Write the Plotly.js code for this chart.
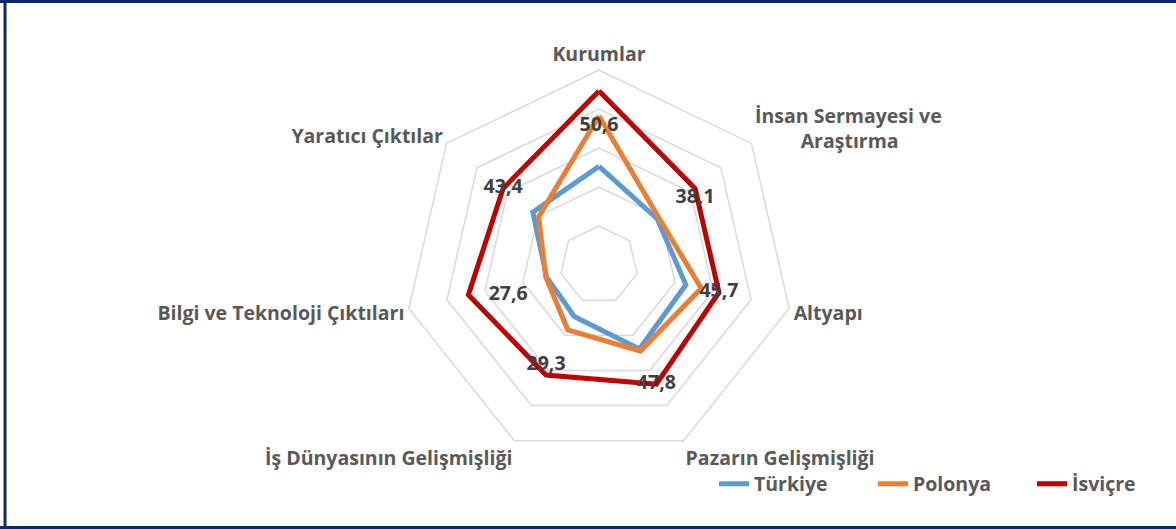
<!DOCTYPE html>
<html>
<head>
<meta charset="utf-8">
<script src="https://cdn.plot.ly/plotly-3.0.1.min.js"></script>
<style>
html,body{margin:0;padding:0;background:#fff;}
#chart{width:1176px;height:529px;}
</style>
</head>
<body>
<div id="chart"></div>
<script>
const categories = ["Kurumlar", "İnsan Sermayesi ve Araştırma", "Altyapı", "Pazarın Gelişmişliği", "İş Dünyasının Gelişmişliği", "Bilgi ve Teknoloji Çıktıları", "Yaratıcı Çıktılar"];
const tickLabels = ["Kurumlar", "İnsan Sermayesi ve<br>Araştırma", "Altyapı", "Pazarın Gelişmişliği", "İş Dünyasının Gelişmişliği", "Bilgi ve Teknoloji Çıktıları", "Yaratıcı Çıktılar"];
const turkiye = [50.6, 38.1, 45.7, 47.8, 29.3, 27.6, 43.4];
const polonya = [76.4, 39.1, 53.8, 49.0, 36.9, 28.0, 39.6];
const isvicre = [89.2, 63.0, 63.1, 67.8, 62.6, 68.7, 62.9];
const seriesNames = ["Türkiye", "Polonya", "İsviçre"];

// label placement around the İsviçre vertices (style only)
const NB = "\u00A0";
const labelPositions = ["bottom center", "bottom center", "middle center", "middle center", "top center", "middle right", "middle center"];
const labelPrefix = [NB + "<br>", "", "", "", "", NB.repeat(4), ""];
// visually centre the second line of the two-line category label
const tickText = tickLabels.map(t => t.replace("<br>", "<br>" + NB.repeat(9)));

const colors = ["#5B9BD5", "#ED7D31", "#C00000"];
const FONT = "'Open Sans', Lato, sans-serif";
const close = a => a.concat([a[0]]);
const cats = close(categories);

function lineTrace(vals, name, color) {
  return {
    type: "scatterpolar", mode: "lines", name: name,
    r: close(vals), theta: cats,
    line: {color: color, width: 5, shape: "linear"},
    hoverinfo: "skip"
  };
}

const traces = [
  lineTrace(turkiye, seriesNames[0], colors[0]),
  lineTrace(polonya, seriesNames[1], colors[1]),
  lineTrace(isvicre, seriesNames[2], colors[2]),
  {
    type: "scatterpolar", mode: "text", showlegend: false, hoverinfo: "skip",
    r: isvicre, theta: categories,
    text: turkiye.map((v, i) => labelPrefix[i] + v.toFixed(1).replace(".", ",")),
    textposition: labelPositions,
    textfont: {family: FONT, size: 19.5, color: "#404040", weight: "bold"},
    cliponaxis: false
  }
];

const W = 1176, H = 529;
const cx = 599, cy = 265, R = 195;
const navy = "#0F2A6A";

const layout = {
  width: W, height: H,
  margin: {l: 0, r: 0, t: 0, b: 0, autoexpand: false},
  paper_bgcolor: "#ffffff",
  font: {family: FONT, color: "#595959"},
  showlegend: true,
  legend: {
    orientation: "h", x: 714 / W, xanchor: "left", y: (H - 484) / H, yanchor: "middle",
    font: {size: 19.5, color: "#595959", weight: "bold"},
    bgcolor: "rgba(0,0,0,0)", entrywidth: 114, entrywidthmode: "pixels", tracegroupgap: 0
  },
  polar: {
    domain: {x: [(cx - R) / W, (cx + R) / W], y: [(H - cy - R) / H, (H - cy + R) / H]},
    gridshape: "linear",
    bgcolor: "#ffffff",
    radialaxis: {
      range: [0, 100], dtick: 20, tick0: 0, showticklabels: false, ticks: "",
      showline: false, gridcolor: "#D9D9D9", gridwidth: 1.5
    },
    angularaxis: {
      rotation: 90, direction: "clockwise", showgrid: false,
      linecolor: "#D9D9D9", linewidth: 1.5, ticks: "",
      tickmode: "array", tickvals: categories, ticktext: tickText,
      tickfont: {size: 19.5, color: "#595959", weight: "bold"}
    }
  },
  shapes: [
    {type: "line", xref: "paper", yref: "paper", x0: 5 / W, x1: 5 / W, y0: 0, y1: 1, line: {color: navy, width: 3}},
    {type: "line", xref: "paper", yref: "paper", x0: 0, x1: 1, y0: (H - 1.5) / H, y1: (H - 1.5) / H, line: {color: navy, width: 3}},
    {type: "line", xref: "paper", yref: "paper", x0: 0, x1: 1, y0: 1.5 / H, y1: 1.5 / H, line: {color: navy, width: 3}}
  ]
};

Plotly.newPlot("chart", traces, layout, {displayModeBar: false, staticPlot: true});
</script>
</body>
</html>
